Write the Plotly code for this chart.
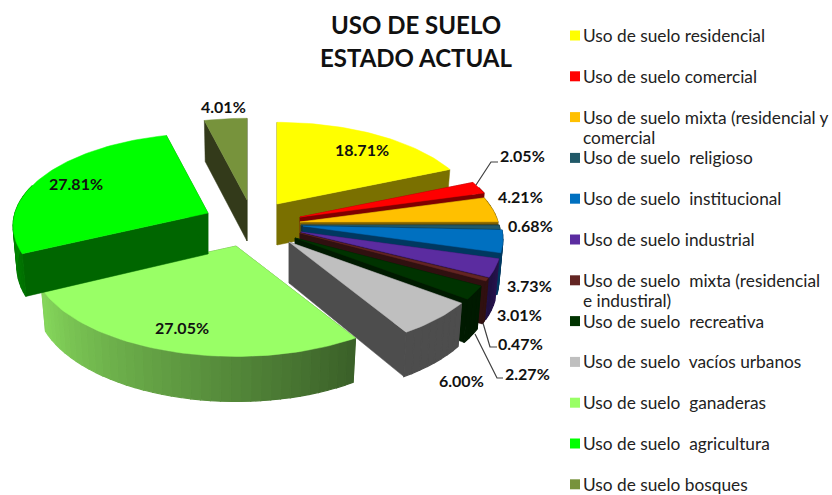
import math
import plotly.graph_objects as go

categories = [
    "Uso de suelo residencial", "Uso de suelo comercial",
    "Uso de suelo mixta (residencial y\ncomercial", "Uso de suelo  religioso",
    "Uso de suelo  institucional", "Uso de suelo industrial",
    "Uso de suelo  mixta (residencial\ne industiral)", "Uso de suelo  recreativa",
    "Uso de suelo  vacíos urbanos", "Uso de suelo  ganaderas",
    "Uso de suelo  agricultura", "Uso de suelo bosques",
]
values = [18.71, 2.05, 4.21, 0.68, 3.73, 3.01, 0.47, 2.27, 6.00, 27.05, 27.81, 4.01]
colors = ["#FFFF00", "#FF0000", "#FFC000", "#215968", "#0070C0", "#5B2CA0",
          "#632523", "#003300", "#BFBFBF", "#99FF66", "#00FF00", "#77933C"]
wall_colors = ["#7A7000", "#7F0000", "#7F6000", "#10303A", "#003860", "#2A1450",
               "#301010", "#001A00", "#4D4D4D", "#4A7A30", "#006600", "#333A1A"]
rim_light = ["#7A7000", "#7F0000", "#7F6000", "#10303A", "#003860", "#2A1450",
             "#301010", "#001A00", "#4D4D4D", "#86D85C", "#00C800", "#333A1A"]
rim_dark = ["#7A7000", "#7F0000", "#7F6000", "#10303A", "#003860", "#1E1040",
            "#301010", "#001A00", "#4D4D4D", "#3A5F28", "#007000", "#333A1A"]

# placement of each exploded wedge tip and its size factor, in page pixels
tips = [(277, 204), (300, 217), (300, 222), (301, 225), (303, 226), (301, 232),
        (300, 233), (295, 238), (289, 242), (236, 246), (208, 213), (247, 200)]
scales = [1, 1, 1, 1, 1, 1, 1, 1, 1, 1.02, 0.975, 1]
label_xy = [(362, 149), (522, 155), (520, 196), (530, 225), (529, 285), (519, 314),
            (520, 343), (527, 373), (461, 380), (182, 327), (76, 183), (223, 106)]
leaders = {1: [(476, 185), (491, 162), (498, 162)],
           6: [(483, 323), (490, 347), (497, 347)],
           7: [(475, 334), (497, 378), (503, 378)]}

RX, RY, K = 198, 95, 0.14
FONT = "Lato, Carlito, sans-serif"


def offset(theta, f):
    u, v = math.sin(theta), -math.cos(theta)
    s = (1 + K * v) * f
    return u * RX * s, v * RY * s, v


def top_pt(tip, theta, f):
    dx, dy, _ = offset(theta, f)
    return tip[0] + dx, tip[1] + dy


def bot_pt(tip, theta, f):
    dx, dy, v = offset(theta, f)
    return tip[0] + dx * 0.98, tip[1] + dy + 41 + 4 * max(v, 0)


def mix(a, b, t):
    ca = [int(a[i:i + 2], 16) for i in (1, 3, 5)]
    cb = [int(b[i:i + 2], 16) for i in (1, 3, 5)]
    return "rgb(%d,%d,%d)" % tuple(round(x + (y - x) * t) for x, y in zip(ca, cb))


fig = go.Figure()


def poly(points, color, width=0.5):
    xs = [p[0] for p in points] + [points[0][0]]
    ys = [p[1] for p in points] + [points[0][1]]
    fig.add_trace(go.Scatter(x=xs, y=ys, mode="lines", fill="toself", fillcolor=color,
                             line=dict(color=color, width=width), hoverinfo="skip",
                             showlegend=False))


total = sum(values)
edges = [0.0]
for val in values:
    edges.append(edges[-1] + val / total * 2 * math.pi)

order = [11, 0, 1, 2, 3, 4, 5, 6, 7, 8, 9, 10]
for i in order:
    a, b, tip, f = edges[i], edges[i + 1], tips[i], scales[i]
    base = (tip[0], tip[1] + 41)
    # radial faces
    for th in (a, b):
        poly([tip, top_pt(tip, th, f), bot_pt(tip, th, f), base], wall_colors[i])
    # outer rim, in short shaded strips
    n = max(2, int((b - a) / math.radians(2.5)))
    for k in range(n):
        t0 = a + (b - a) * k / n
        t1 = a + (b - a) * (k + 1) / n
        if math.cos((t0 + t1) / 2) > 0.3:
            continue
        shade = 1 - (k + 0.5) / n
        poly([top_pt(tip, t0, f), top_pt(tip, t1, f), bot_pt(tip, t1, f), bot_pt(tip, t0, f)],
             mix(rim_dark[i], rim_light[i], 1 - shade if i >= 9 else shade), 1.2)
    # top surface
    m = max(6, int((b - a) / math.radians(1.5)))
    arc = [top_pt(tip, a + (b - a) * k / m, f) for k in range(m + 1)]
    poly([tip] + arc, colors[i])

for pts in leaders.values():
    fig.add_trace(go.Scatter(x=[p[0] for p in pts], y=[p[1] for p in pts], mode="lines",
                             line=dict(color="#404040", width=1.2), hoverinfo="skip",
                             showlegend=False))

# legend
for i, name in enumerate(categories):
    y = 35.5 + i * 40.8
    fig.add_trace(go.Scatter(x=[575], y=[y], mode="markers",
                             marker=dict(symbol="square", size=10, color=colors[i]),
                             hoverinfo="skip", showlegend=False))
    for j, line in enumerate(name.split("\n")):
        fig.add_annotation(x=583, y=y + j * 20, text=line, xanchor="left", yanchor="middle",
                           showarrow=False, xref="x", yref="y", borderpad=0, borderwidth=0,
                           font=dict(family=FONT, size=17.3, color="#222222"))

# value labels
for val, (x, y) in zip(values, label_xy):
    fig.add_annotation(x=x, y=y, text="<b>%.2f%%</b>" % val, showarrow=False, xref="x", yref="y",
                       font=dict(family=FONT, size=16, color="#111111"))

for line, y in (("USO DE SUELO", 24), ("ESTADO ACTUAL", 57)):
    fig.add_annotation(x=416, y=y, text="<b>%s</b>" % line, showarrow=False, xref="x", yref="y",
                       font=dict(family=FONT, size=24, color="#111111"))

fig.update_layout(width=832, height=495, margin=dict(l=0, r=0, t=0, b=0),
                  paper_bgcolor="white", plot_bgcolor="white", showlegend=False,
                  xaxis=dict(range=[0, 832], visible=False),
                  yaxis=dict(range=[495, 0], visible=False))
fig.write_html("out.html", config={"displayModeBar": False},
               post_script="document.body.style.margin='0';document.documentElement.style.overflow='hidden';")
